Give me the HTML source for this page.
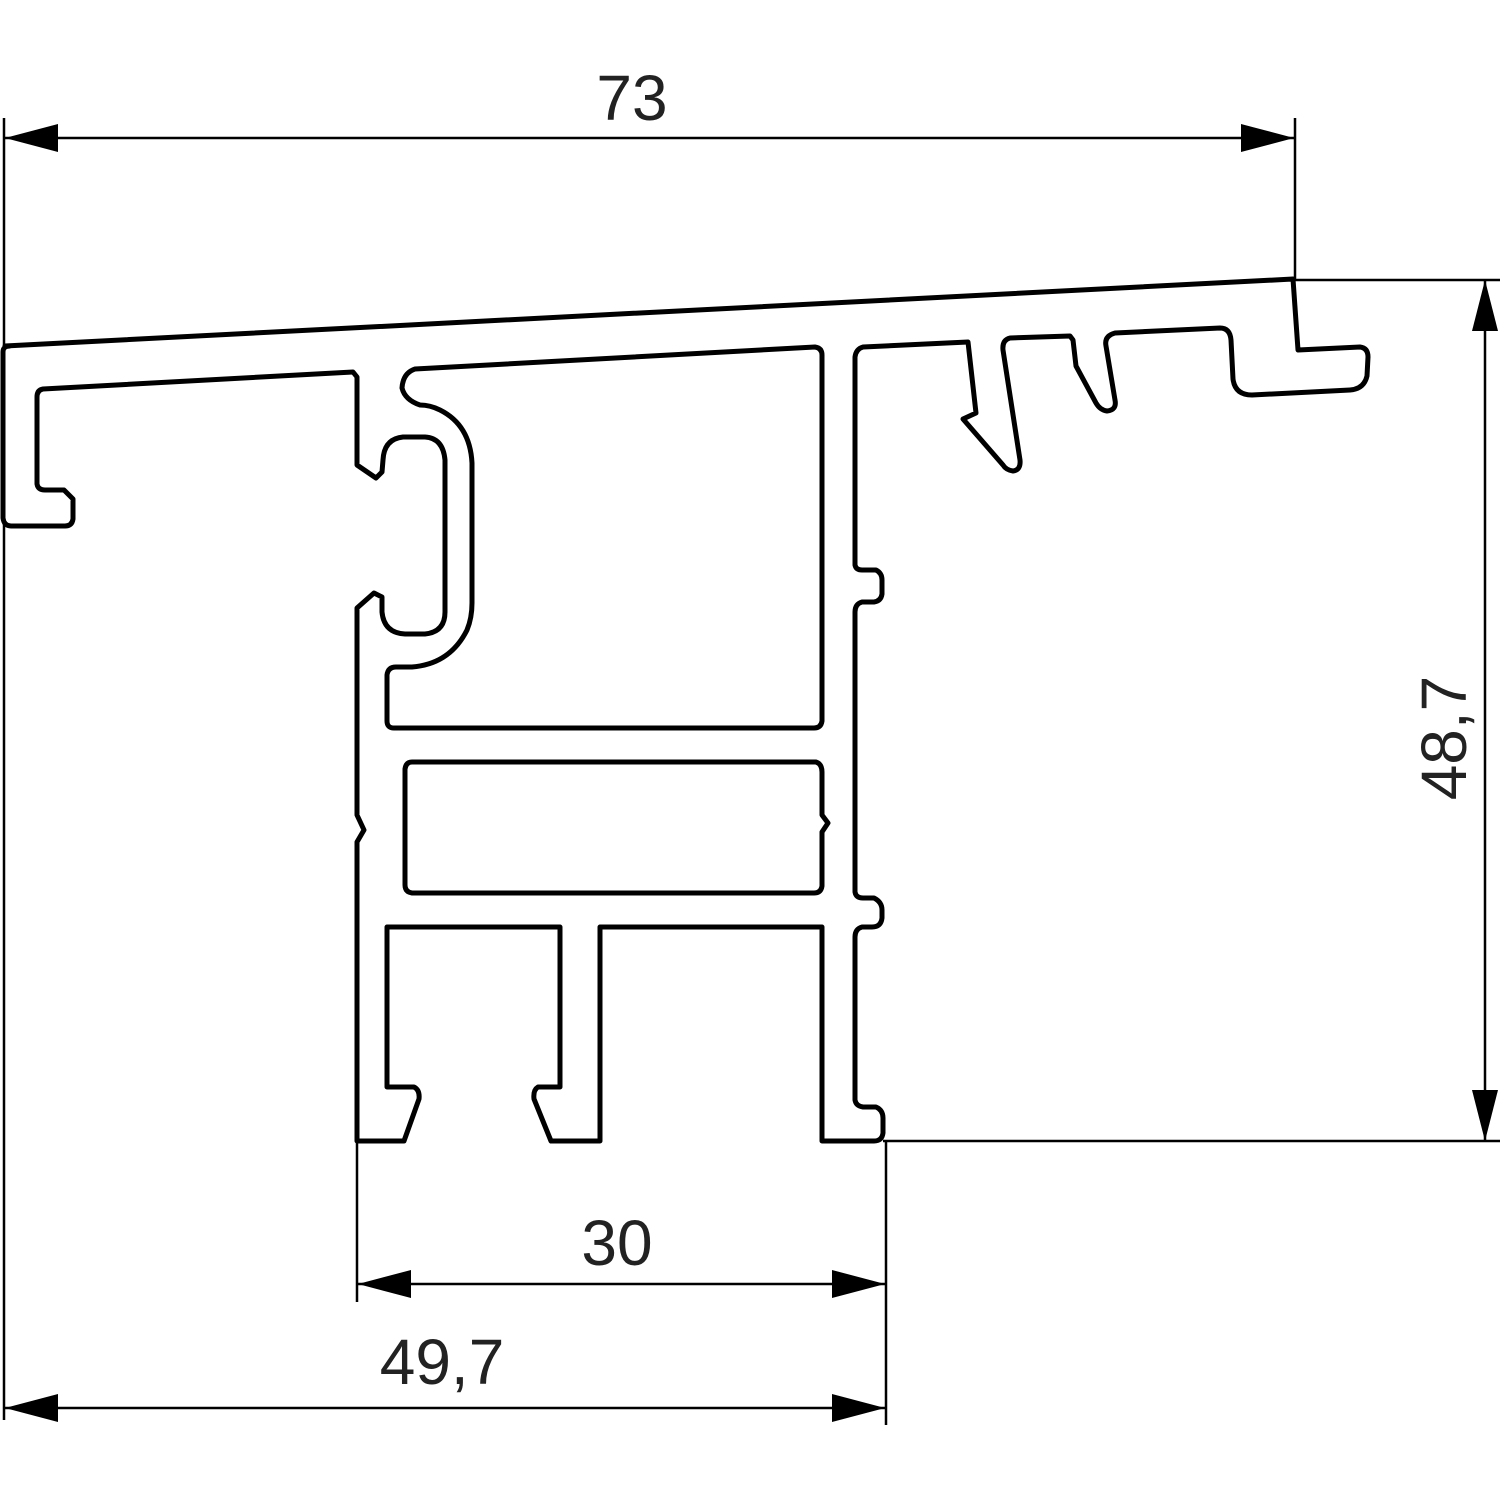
<!DOCTYPE html>
<html><head><meta charset="utf-8"><style>html,body{margin:0;padding:0;background:#fff}svg{display:block}</style></head>
<body>
<svg width="1500" height="1500" viewBox="0 0 1500 1500" xmlns="http://www.w3.org/2000/svg">
<g fill="none" stroke="#000" stroke-width="5" stroke-linejoin="round">
<path d="M5,346 L1293,279 L1298,350 L1360,347 Q1368,348 1368,357 L1367,376 Q1364,389 1350,390 L1252,395 Q1235,395 1233,379 L1231,340 Q1230,328 1220,328 L1115,333 Q1104,336 1106,346 L1115,400 Q1117,410 1107,411 Q1100,410 1096,403 L1076,366 L1073,340 L1070,336 L1010,338 Q1002,340 1003,350 L1020,460 Q1021,470 1013,471 Q1006,470 1003,465 L963,419 L976,413 L968,342 L863,347 Q856,349 855,357 L855,565 Q856,570 862,570 L876,570 Q882,573 882,580 L882,594 Q881,601 874,602 L862,602 Q855,604 855,612 L855,892 Q856,898 863,898 L874,898 Q882,902 882,910 L882,918 Q881,927 872,927 L862,927 Q855,929 855,937 L855,1100 Q856,1106 863,1107 L876,1107 Q883,1110 883,1118 L883,1133 Q882,1141 874,1141 L822,1141 L822,927 L600,927 L600,1141 L551,1141 L534,1099 Q533,1090 538,1087 L560,1087 L560,927 L387,927 L387,1087 L414,1087 Q420,1090 419,1099 L404,1141 L357,1141 L357,842 L364,830 L357,815 L357,608 L374,593 L382,597 L382,612 Q384,633 405,634 L425,634 Q445,632 445,612 L445,460 Q443,438 425,437 L403,437 Q384,439 383,460 L382,472 L376,478 L357,465 L357,377 L353,372 L43,389 Q37,390 37,397 L37,484 Q38,490 45,490 L64,490 L73,499 L73,519 Q72,526 65,526 L11,526 Q4,526 3,518 L3,352 Q3,346 10,346 Z"/>
<path d="M415,369 L815,347 Q822,348 822,355 L822,721 Q821,728 814,728 L394,728 Q387,728 387,721 L387,675 Q388,667 396,667 L412,667 Q450,664 467,630 Q472,618 472,603 L472,463 Q470,425 440,410 Q430,405 420,405 Q405,400 402,388 Q403,373 415,369 Z"/>
<path d="M412,762 L816,762 Q822,764 822,772 L822,815 L828,823 L822,832 L822,886 Q821,893 814,893 L412,893 Q405,892 405,885 L405,769 Q406,762 412,762 Z"/>
</g>
<g stroke="#000" stroke-width="2.5" fill="none">
<line x1="4" y1="118" x2="4" y2="1420"/>
<line x1="1295" y1="118" x2="1295" y2="279"/>
<line x1="1295" y1="280" x2="1500" y2="280"/>
<line x1="883" y1="1141" x2="1500" y2="1141"/>
<line x1="357" y1="1141" x2="357" y2="1302"/>
<line x1="886" y1="1141" x2="886" y2="1425"/>
<line x1="5" y1="138" x2="1294" y2="138"/>
<line x1="1485" y1="280" x2="1485" y2="1141"/>
<line x1="357" y1="1284" x2="886" y2="1284"/>
<line x1="5" y1="1408" x2="886" y2="1408"/>
</g>
<g fill="#000">
<polygon points="5,138 58,124 58,152"/>
<polygon points="1294,138 1241,124 1241,152"/>
<polygon points="1485,280 1472,331 1498,331"/>
<polygon points="1485,1141 1472,1090 1498,1090"/>
<polygon points="358,1284 411,1270 411,1298"/>
<polygon points="885,1284 832,1270 832,1298"/>
<polygon points="5,1408 58,1394 58,1422"/>
<polygon points="885,1408 832,1394 832,1422"/>
</g>
<g font-family="Liberation Sans, sans-serif" font-size="64" fill="#222" text-anchor="middle">
<text x="632" y="120">73</text>
<text x="617" y="1265">30</text>
<text x="442" y="1384">49,7</text>
<text transform="translate(1466,738) rotate(-90)">48,7</text>
</g>
</svg>
</body></html>
